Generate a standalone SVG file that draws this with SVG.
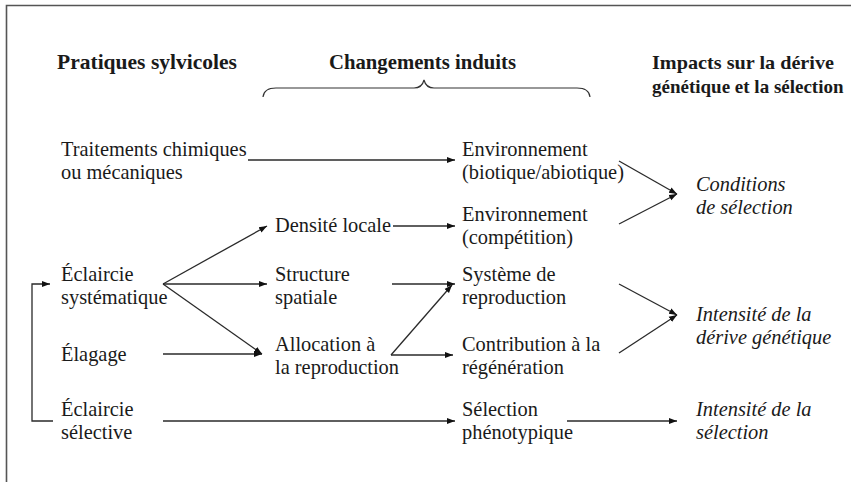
<svg xmlns="http://www.w3.org/2000/svg" width="851" height="482" viewBox="0 0 851 482">
<style>
text{font-family:"Liberation Serif","Times New Roman",serif;font-size:20.4px;fill:#1a1a1a}
.h{font-weight:bold;font-size:21px}
.h2{font-weight:bold;font-size:19px}
.i{font-style:italic}
.c line,.c path,.c polyline{stroke:#2a2a2a;stroke-width:1.3;fill:none}
</style>
<defs>
<marker id="a" markerUnits="userSpaceOnUse" markerWidth="9" markerHeight="8" refX="8" refY="4" orient="auto">
<path d="M0,1 L8,4 L0,7 Z" fill="#111"/>
</marker>
</defs>
<rect width="851" height="482" fill="#fff"/>
<g id="frame" fill="none" stroke="#555" stroke-width="1.6">
<path d="M6.5,482 V5.5 H851"/>
</g>
<g id="headers">
<text class="h" x="57" y="69" textLength="180" lengthAdjust="spacingAndGlyphs">Pratiques sylvicoles</text>
<text class="h" x="329" y="69" textLength="187" lengthAdjust="spacingAndGlyphs">Changements induits</text>
<text class="h2" x="652" y="69" textLength="182" lengthAdjust="spacingAndGlyphs">Impacts sur la dérive</text>
<text class="h2" x="652" y="93">génétique et la sélection</text>
<path d="M263,97 Q264,88 276,88 H414 Q422,88 424,80 Q426,88 434,88 H577 Q589,88 590,97" fill="none" stroke="#333" stroke-width="1.2"/>
</g>
<g id="n-traitements"><text x="61" y="156">Traitements chimiques</text><text x="61" y="179">ou mécaniques</text></g>
<g id="n-eclaircie-sys"><text x="61" y="281">Éclaircie</text><text x="61" y="304">systématique</text></g>
<g id="n-elagage"><text x="61" y="361">Élagage</text></g>
<g id="n-eclaircie-sel"><text x="61" y="416">Éclaircie</text><text x="61" y="439">sélective</text></g>
<g id="n-densite"><text x="275" y="232">Densité locale</text></g>
<g id="n-structure"><text x="275" y="281">Structure</text><text x="275" y="304">spatiale</text></g>
<g id="n-allocation"><text x="275" y="351">Allocation à</text><text x="275" y="374">la reproduction</text></g>
<g id="n-env1"><text x="462" y="156">Environnement</text><text x="462" y="179">(biotique/abiotique)</text></g>
<g id="n-env2"><text x="462" y="221">Environnement</text><text x="462" y="244">(compétition)</text></g>
<g id="n-systeme"><text x="462" y="281">Système de</text><text x="462" y="304">reproduction</text></g>
<g id="n-contribution"><text x="462" y="351">Contribution à la</text><text x="462" y="374">régénération</text></g>
<g id="n-selection"><text x="462" y="416">Sélection</text><text x="462" y="439">phénotypique</text></g>
<g id="n-conditions"><text class="i" x="696" y="191">Conditions</text><text class="i" x="696" y="214">de sélection</text></g>
<g id="n-derive"><text class="i" x="696" y="321">Intensité de la</text><text class="i" x="696" y="344">dérive génétique</text></g>
<g id="n-int-sel"><text class="i" x="696" y="416">Intensité de la</text><text class="i" x="696" y="439">sélection</text></g>
<g id="connectors" class="c">
<line x1="248" y1="160" x2="455" y2="160" marker-end="url(#a)"/>
<line x1="163" y1="284" x2="267" y2="226" marker-end="url(#a)"/>
<line x1="163" y1="284" x2="267" y2="284" marker-end="url(#a)"/>
<line x1="163" y1="284" x2="262" y2="354" marker-end="url(#a)"/>
<line x1="163" y1="354" x2="262" y2="354" marker-end="url(#a)"/>
<polyline points="53,421 32,421 32,284 50,284" marker-end="url(#a)"/>
<line x1="163" y1="421" x2="455" y2="421" marker-end="url(#a)"/>
<line x1="393" y1="226" x2="455" y2="226" marker-end="url(#a)"/>
<line x1="392" y1="284" x2="455" y2="284" marker-end="url(#a)"/>
<line x1="391" y1="355" x2="452" y2="285" marker-end="url(#a)"/>
<line x1="391" y1="355" x2="453" y2="355" marker-end="url(#a)"/>
<line x1="567" y1="421" x2="677" y2="421" marker-end="url(#a)"/>
<line x1="619" y1="161" x2="677" y2="194" marker-end="url(#a)"/>
<line x1="619" y1="224" x2="677" y2="194" marker-end="url(#a)"/>
<line x1="619" y1="284" x2="677" y2="315" marker-end="url(#a)"/>
<line x1="619" y1="353" x2="677" y2="315" marker-end="url(#a)"/>
</g>
</svg>
